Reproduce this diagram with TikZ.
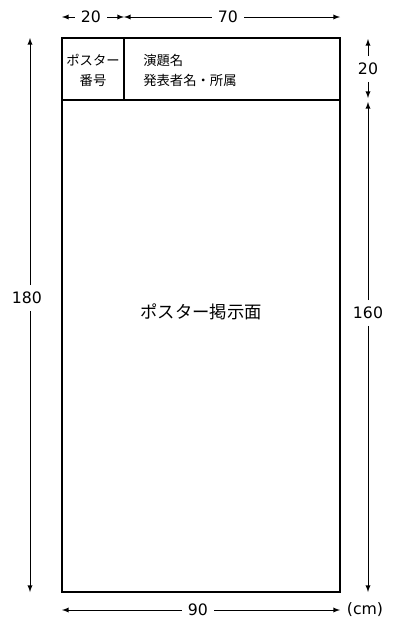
\documentclass[tikz,border=0pt]{standalone}
\usepackage{fontspec}
\setmainfont{DejaVu Sans}
\newfontfamily\jpfont{Noto Sans CJK JP}
\usetikzlibrary{arrows}

\begin{document}
\begin{tikzpicture}[
    x = 0.75pt,
    y = -0.75pt,
    >=latex,
    ]

    \tikzstyle{board}=[
    draw = black,
    line width = 1.5pt,
    ]
    \tikzstyle{dimline}=[
    ->,
    line width = 0.75pt,
    ]
    \tikzstyle{dimtext}=[
    font = \fontsize{11.8}{13}\selectfont,
    inner xsep = 4.5pt,
    inner ysep = 5pt,
    ]
    \tikzstyle{jptext}=[
    font = \jpfont\fontsize{10}{15}\selectfont,
    inner sep = 0pt,
    ]

    \useasboundingbox (0,0) rectangle (400,632);

    % poster board
    \coordinate (tl) at (62,38);
    \coordinate (br) at (340,592);
    \coordinate (hl) at (62,100);
    \coordinate (hr) at (340,100);
    \coordinate (vt) at (124,38);
    \coordinate (vb) at (124,100);

    \draw[board] (tl) rectangle (br);
    \draw[board] (hl) -- (hr);
    \draw[board] (vt) -- (vb);

    \node[jptext, align=center] (number) at (93,70) {ポスター\\番号};
    \node[jptext, align=left, anchor=west] (title) at (143,70) {演題名\\発表者名・所属};
    \node[jptext, font=\jpfont\fontsize{13}{15}\selectfont] (area) at (201,312) {ポスター掲示面};

    % top widths
    \coordinate (t0) at (62,17);
    \coordinate (t1) at (124,17);
    \coordinate (t2) at (340,17);
    \node[dimtext] (w20) at (91,17) {20};
    \node[dimtext] (w70) at (228,17) {70};
    \draw[dimline] (w20) -- (t0);
    \draw[dimline] (w20) -- (t1);
    \draw[dimline] (w70) -- (t1);
    \draw[dimline] (w70) -- (t2);

    % left height
    \coordinate (l0) at (30,38);
    \coordinate (l1) at (30,592);
    \node[dimtext] (h180) at (27,298) {180};
    \draw[dimline] (l1 |- h180.north) -- (l0);
    \draw[dimline] (l0 |- h180.south) -- (l1);

    % right heights
    \coordinate (r0) at (368,39);
    \coordinate (r1) at (368,98);
    \coordinate (r2) at (368,102);
    \coordinate (r3) at (368,592);
    \node[dimtext] (h20) at (368,69) {20};
    \node[dimtext] (h160) at (368,313) {160};
    \draw[dimline] (h20) -- (r0);
    \draw[dimline] (h20) -- (r1);
    \draw[dimline] (h160) -- (r2);
    \draw[dimline] (h160) -- (r3);

    % bottom width
    \coordinate (b0) at (62,610);
    \coordinate (b1) at (340,610);
    \node[dimtext] (w90) at (198,610) {90};
    \node[dimtext, inner sep=0pt] (unit) at (365,610) {(cm)};
    \draw[dimline] (w90) -- (b0);
    \draw[dimline] (w90) -- (b1);
\end{tikzpicture}
\end{document}
